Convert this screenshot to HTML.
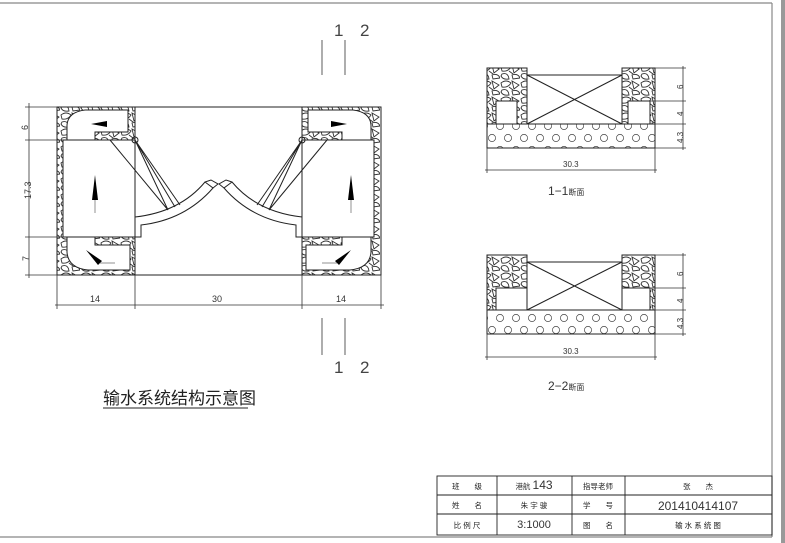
<!DOCTYPE html><html><head><meta charset="utf-8"><style>body{margin:0;background:#fff}svg{display:block}text{font-family:"Liberation Sans","Noto Sans CJK SC",sans-serif}</style></head><body>
<svg width="785" height="543" viewBox="0 0 785 543" xmlns="http://www.w3.org/2000/svg">
<defs>
<pattern id="st" width="20" height="16" patternUnits="userSpaceOnUse">
<path d="M1 3 Q6 -1 11 3 Q8 8 2 7 Z M12 1 L19 5 L14 9 Z M2 10 Q8 8 9 15 Q3 16 1 12 Z M12 11 Q18 9 20 14 L13 15 Z M9 7 L13 10" fill="none" stroke="#333" stroke-width="0.9"/>
</pattern>
<pattern id="ci" width="16" height="24" patternUnits="userSpaceOnUse">
<circle cx="4" cy="6" r="3.6" fill="none" stroke="#444" stroke-width="0.7"/>
<circle cx="12" cy="18" r="3.6" fill="none" stroke="#444" stroke-width="0.7"/>
</pattern>
</defs>
<g fill="none" stroke="#888" stroke-width="1.2">
<line x1="0" y1="3" x2="772" y2="3"/><line x1="772" y1="3" x2="772" y2="537"/><line x1="0" y1="537" x2="772" y2="537"/>
</g>
<rect x="781" y="0" width="4" height="543" fill="#999"/>
<g stroke="#222" stroke-width="1" fill="none">
<rect x="57" y="107" width="78" height="168" fill="url(#st)"/>
<rect x="302" y="107" width="79" height="168" fill="url(#st)"/>
<path d="M67 140 L67 125 Q68 112 85 110 L128 110 L128 132 L95 132 L95 140" fill="#fff"/>
<path d="M371 140 L371 125 Q370 112 353 110 L308 110 L308 132 L342 132 L342 140" fill="#fff"/>
<path d="M67 237 L67 252 Q68 268 88 270 L130 270 L130 245 L95 245 L95 237" fill="#fff"/>
<path d="M371 237 L371 252 Q370 268 350 270 L306 270 L306 245 L342 245 L342 237" fill="#fff"/>
<rect x="135" y="107" width="167" height="168" fill="#fff"/>
<rect x="63" y="140" width="72" height="97" fill="#fff"/>
<rect x="302" y="140" width="72" height="97" fill="#fff"/>
<path d="M135 237 L141 237 L141 225 Q185 220 213 188 L205 182 Q180 212 135 217 Z" fill="#fff"/>
<path d="M302 237 L296 237 L296 225 Q252 220 224 188 L232 182 Q257 212 302 217 Z" fill="#fff"/>
<path d="M213 188 L218 184 L211 180 L205 182 M224 188 L219 184 L226 180 L232 182"/>
<path d="M110 140 L168 210 M135 140 L168 210 M135 140 L175 207 M135 140 L180 205"/>
<path d="M327 140 L269 210 M302 140 L269 210 M302 140 L262 207 M302 140 L257 205"/>
<circle cx="135" cy="140" r="3"/><circle cx="302" cy="140" r="3"/>
<line x1="135" y1="275" x2="302" y2="275"/>
</g>
<g fill="#000">
<path d="M92 200 L95 175 L98 200 Z"/><path d="M348 200 L351 175 L354 200 Z"/>
<path d="M91 124 L107 121 L107 127 Z"/><path d="M347 124 L331 121 L331 127 Z"/>
<path d="M86 250 L102 261 L98 265 Z"/><path d="M351 250 L335 261 L339 265 Z"/>
</g>
<g stroke="#777" stroke-width="0.8"><line x1="95" y1="200" x2="95" y2="213"/><line x1="351" y1="200" x2="351" y2="213"/><line x1="100" y1="263" x2="115" y2="263"/><line x1="337" y1="263" x2="322" y2="263"/></g>
<g stroke="#333" stroke-width="0.8" fill="none">
<line x1="29" y1="103" x2="29" y2="278"/>
<line x1="25" y1="107" x2="57" y2="107"/><line x1="25" y1="140" x2="63" y2="140"/><line x1="25" y1="237" x2="63" y2="237"/><line x1="25" y1="275" x2="57" y2="275"/>
<line x1="55" y1="305" x2="384" y2="305"/>
<line x1="57" y1="275" x2="57" y2="309"/><line x1="135" y1="275" x2="135" y2="309"/><line x1="302" y1="275" x2="302" y2="309"/><line x1="381" y1="275" x2="381" y2="309"/>
<line x1="322" y1="40" x2="322" y2="75"/><line x1="345" y1="40" x2="345" y2="75"/>
<line x1="322" y1="318" x2="322" y2="355"/><line x1="345" y1="318" x2="345" y2="355"/>
</g>
<g font-size="9" fill="#333">
<text x="20" y="128" transform="rotate(-90 25 125)">6</text>
<text x="16" y="196" transform="rotate(-90 25 190)">17.3</text>
<text x="20" y="260" transform="rotate(-90 25 256)">7</text>
<text x="90" y="302">14</text><text x="212" y="302">30</text><text x="336" y="302">14</text>
</g>
<g font-size="17" fill="#444"><text x="334" y="36">1</text><text x="360" y="36">2</text><text x="334" y="373">1</text><text x="360" y="373">2</text></g>
<text x="103" y="404" font-size="17" fill="#222">输水系统结构示意图</text>
<line x1="103" y1="408" x2="248" y2="408" stroke="#222"/>
<g stroke="#222" stroke-width="1" fill="none">
<rect x="487" y="68" width="40" height="56" fill="url(#st)"/>
<rect x="622" y="68" width="33" height="56" fill="url(#st)"/>
<rect x="496" y="101" width="21" height="23" fill="#fff"/><rect x="628" y="101" width="22" height="23" fill="#fff"/>
<rect x="527" y="75" width="95" height="49"/><path d="M527 75 L622 124 M622 75 L527 124"/>
<rect x="487" y="124" width="168" height="24" fill="url(#ci)"/>
<rect x="487" y="255" width="40" height="55" fill="url(#st)"/>
<rect x="622" y="255" width="33" height="55" fill="url(#st)"/>
<rect x="496" y="288" width="31" height="22" fill="#fff"/><rect x="622" y="288" width="28" height="22" fill="#fff"/>
<rect x="527" y="262" width="95" height="48"/><path d="M527 262 L622 310 M622 262 L527 310"/>
<rect x="487" y="310" width="168" height="24" fill="url(#ci)"/>
</g>
<g stroke="#333" stroke-width="0.8">
<line x1="487" y1="148" x2="487" y2="173"/><line x1="655" y1="148" x2="655" y2="173"/><line x1="485" y1="170" x2="657" y2="170"/>
<line x1="487" y1="334" x2="487" y2="360"/><line x1="655" y1="334" x2="655" y2="360"/><line x1="485" y1="357" x2="657" y2="357"/>
<line x1="683" y1="66" x2="683" y2="150"/><line x1="655" y1="68" x2="686" y2="68"/><line x1="650" y1="101" x2="686" y2="101"/><line x1="655" y1="124" x2="686" y2="124"/><line x1="655" y1="148" x2="686" y2="148"/>
<line x1="683" y1="253" x2="683" y2="336"/><line x1="655" y1="255" x2="686" y2="255"/><line x1="650" y1="288" x2="686" y2="288"/><line x1="655" y1="310" x2="686" y2="310"/><line x1="655" y1="334" x2="686" y2="334"/>
</g>
<g font-size="8" fill="#333">
<text x="563" y="167">30.3</text><text x="563" y="354">30.3</text>
<text x="676" y="88" transform="rotate(-90 680 85)">6</text><text x="676" y="115" transform="rotate(-90 680 112)">4</text><text x="673" y="139" transform="rotate(-90 680 136)">4.3</text>
<text x="676" y="275" transform="rotate(-90 680 272)">6</text><text x="676" y="302" transform="rotate(-90 680 299)">4</text><text x="673" y="325" transform="rotate(-90 680 322)">4.3</text>
</g>
<text x="548" y="195" font-size="12" fill="#333">1−1<tspan font-size="8">断面</tspan></text>
<text x="548" y="390" font-size="12" fill="#333">2−2<tspan font-size="8">断面</tspan></text>
<g stroke="#222" stroke-width="0.9" fill="none">
<rect x="437" y="476" width="335" height="59"/>
<line x1="437" y1="495" x2="772" y2="495"/><line x1="437" y1="514" x2="772" y2="514"/>
<line x1="497" y1="476" x2="497" y2="535"/><line x1="572" y1="476" x2="572" y2="535"/><line x1="625" y1="476" x2="625" y2="535"/>
</g>
<g font-size="7.5" fill="#222" text-anchor="middle">
<text x="467" y="489">班　　级</text><text x="598" y="489">指导老师</text><text x="698" y="489">张　　杰</text>
<text x="467" y="508">姓　　名</text><text x="534" y="508">朱 宇 骏</text><text x="598" y="508">学　　号</text>
<text x="467" y="528">比 例 尺</text><text x="598" y="528">图　　名</text><text x="698" y="528">输 水 系 统 图</text>
</g>
<g fill="#333" text-anchor="middle">
<text x="534" y="489" font-size="7.5">港航 <tspan font-size="12">143</tspan></text>
<text x="698" y="510" font-size="12">201410414107</text>
<text x="534" y="528" font-size="11">3:1000</text>
</g>
</svg></body></html>
